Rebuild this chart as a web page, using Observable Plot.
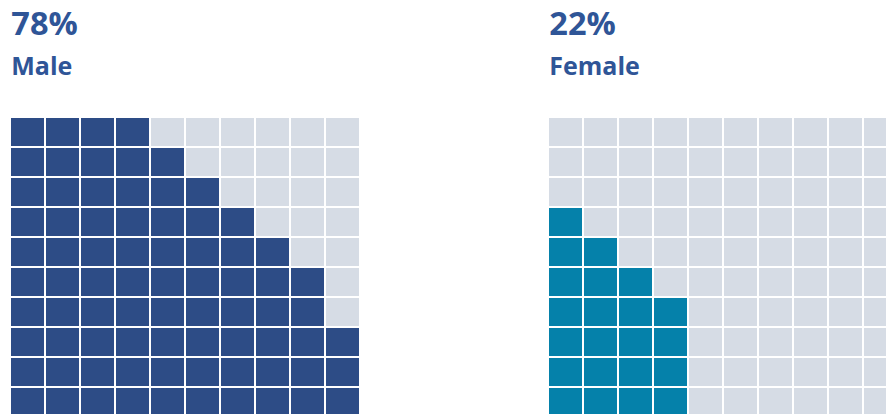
<!DOCTYPE html>
<html>
<head>
<meta charset="utf-8">
<script src="https://cdn.jsdelivr.net/npm/d3@7"></script>
<script src="https://cdn.jsdelivr.net/npm/@observablehq/plot@0.6"></script>
<style>
  html, body { margin: 0; padding: 0; background: #fff; overflow: hidden; }
  #wrap { position: relative; width: 886px; height: 414px; overflow: hidden; }
  .panel { position: absolute; top: 0; width: 360px; height: 414px; }
  .pct, .lab { position: absolute; left: 11.3px; font-family: "Open Sans", sans-serif; font-weight: 700; color: #2F5597; line-height: 1; white-space: nowrap; }
  .pct { top: 7.4px; font-size: 32.5px; }
  .lab { top: 52.8px; font-size: 25px; }
  .panel svg { position: absolute; left: 0; top: 0; overflow: visible; }
</style>
</head>
<body>
<div id="wrap"></div>
<script>
// Data
const groups = ["Male", "Female"];
const percents = [78, 22];
// filled cells per row, top row first (10 x 10 waffle)
const maleRowFill = [4, 5, 6, 7, 8, 9, 9, 10, 10, 10];
const femaleRowFill = [0, 0, 0, 1, 2, 3, 4, 4, 4, 4];
const rowFills = [maleRowFill, femaleRowFill];
const fillColors = ["#2D4C86", "#0581AA"];
const emptyColor = "#D6DCE5";
const panelLeft = [0, 538];

const wrap = document.getElementById("wrap");
groups.forEach((g, i) => {
  const cells = [];
  rowFills[i].forEach((n, r) => {
    for (let c = 0; c < 10; c++) cells.push({row: r, col: c, filled: c < n});
  });
  const panel = document.createElement("div");
  panel.className = "panel";
  panel.style.left = panelLeft[i] + "px";
  const plot = Plot.plot({
    width: 360,
    height: 417,
    marginLeft: 10,
    marginRight: 0,
    marginTop: 116.5,
    marginBottom: 0.5,
    x: {type: "band", domain: d3.range(10), padding: 0, axis: null},
    y: {type: "band", domain: d3.range(10), padding: 0, axis: null},
    color: {type: "categorical", domain: [true, false], range: [fillColors[i], emptyColor]},
    marks: [
      Plot.cell(cells, {x: "col", y: "row", fill: "filled", inset: 1})
    ]
  });
  panel.appendChild(plot);
  const pct = document.createElement("div");
  pct.className = "pct";
  pct.textContent = percents[i] + "%";
  const lab = document.createElement("div");
  lab.className = "lab";
  lab.textContent = g;
  panel.appendChild(pct);
  panel.appendChild(lab);
  wrap.appendChild(panel);
});
</script>
</body>
</html>
